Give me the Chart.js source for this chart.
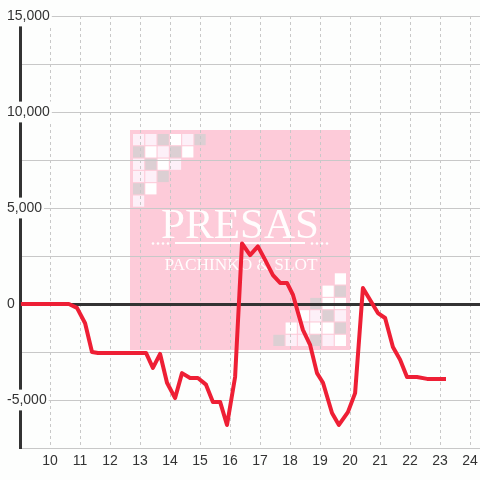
<!DOCTYPE html>
<html>
<head>
<meta charset="utf-8">
<script src="https://cdn.jsdelivr.net/npm/chart.js@4/dist/chart.umd.min.js"></script>
<style>
  html, body { margin: 0; padding: 0; background: #fdfefd; }
  #wrap { width: 480px; height: 480px; }
</style>
</head>
<body>
<div id="wrap"><canvas id="balanceChart" width="480" height="480"></canvas></div>
<script>
// Hour of day (x) and running balance (y)
const hours = [9.03, 10.63, 10.9, 11.17, 11.4, 11.6, 13.2, 13.43, 13.67, 13.9, 14.17, 14.4, 14.67, 14.93,
    15.2, 15.43, 15.67, 15.9, 16.17, 16.4, 16.67, 16.93, 17.17, 17.43, 17.67, 17.9, 18.1, 18.27, 18.43,
    18.67, 18.9, 19.1, 19.4, 19.63, 19.93, 20.17, 20.43, 20.73, 20.93, 21.17, 21.43, 21.67, 21.9, 22.23,
    22.57, 23.2];
const balance = [0, 0, -200, -1000, -2500, -2550, -2550, -3330, -2600, -4100, -4900, -3600, -3850, -3850,
    -4200, -5100, -5100, -6300, -3800, 3150, 2550, 3000, 2300, 1500, 1100, 1100, 470, -470, -1350,
    -2130, -3600, -4100, -5680, -6300, -5630, -4640, 830, 50, -470, -730, -2240, -2900, -3800, -3800,
    -3900, -3900];
const hourTicks = [10, 11, 12, 13, 14, 15, 16, 17, 18, 19, 20, 21, 22, 23, 24];

// Watermark squares (w = white, l = pale pink, g = grey)
const cornerTopLeft = [
    ['l', 'l', 'g', 'w', 'l', 'g'],
    ['g', 'w', 'l', 'g', 'w'],
    ['l', 'g', 'w', 'l'],
    ['l', 'l', 'g'],
    ['g', 'w'],
    ['l']
];
const cornerBottomRight = [
    ['w'],
    ['w', 'g'],
    ['g', 'w', 'w'],
    ['w', 'l', 'g', 'l'],
    ['w', 'l', 'w', 'w', 'g'],
    ['g', 'l', 'l', 'g', 'l', 'w']
];
const squareColors = { w: '#ffffff', l: '#fdf0f8', g: '#dccfd3' };

const watermark = {
    id: 'watermark',
    beforeDraw(chart) {
        const ctx = chart.ctx;
        const size = 220;
        const x0 = chart.width / 2 - size / 2;
        const y0 = chart.height / 2 - size / 2;
        const pitch = 12.3, sq = 11.2;
        ctx.save();
        ctx.fillStyle = '#fdfefd';
        ctx.fillRect(0, 0, chart.width, chart.height);
        ctx.fillStyle = '#fdcbd9';
        ctx.fillRect(x0, y0, size, size);

        cornerTopLeft.forEach((row, r) => {
            row.forEach((c, i) => {
                ctx.fillStyle = squareColors[c];
                ctx.fillRect(x0 + 3 + i * pitch, y0 + 4 + r * pitch, sq, sq);
            });
        });
        const n = cornerBottomRight.length;
        cornerBottomRight.forEach((row, r) => {
            row.forEach((c, i) => {
                const col = 6 - row.length + i;
                ctx.fillStyle = squareColors[c];
                ctx.fillRect(x0 + size - 4 - (6 - col) * pitch + (pitch - sq), y0 + size - 4 - (n - r) * pitch + (pitch - sq), sq, sq);
            });
        });

        const cx = chart.width / 2;
        ctx.fillStyle = 'rgba(255,255,255,0.95)';
        ctx.textAlign = 'center';
        ctx.textBaseline = 'alphabetic';
        ctx.font = '42px "Liberation Serif"';
        let w = ctx.measureText('PRESAS').width;
        ctx.save();
        ctx.translate(cx, y0 + 108);
        ctx.scale(158 / w, 1);
        ctx.fillText('PRESAS', 0, 0);
        ctx.restore();

        ctx.fillRect(cx - 65, y0 + 112, 130, 2);
        for (let k = 0; k < 4; k++) {
            ctx.beginPath();
            ctx.arc(cx - 87 + k * 5, y0 + 113.5, 1.3, 0, Math.PI * 2);
            ctx.fill();
            ctx.beginPath();
            ctx.arc(cx + 72 + k * 5, y0 + 113.5, 1.3, 0, Math.PI * 2);
            ctx.fill();
        }

        ctx.font = '16px "Liberation Serif"';
        w = ctx.measureText('PACHINKO & SLOT').width;
        ctx.save();
        ctx.translate(cx + 1, y0 + 140);
        ctx.scale(153 / w, 1);
        ctx.fillText('PACHINKO & SLOT', 0, 0);
        ctx.restore();
        ctx.restore();
    }
};

Chart.defaults.font.family = '"Liberation Sans", Arial, sans-serif';
Chart.defaults.font.size = 14;
Chart.defaults.color = '#333';

new Chart(document.getElementById('balanceChart'), {
    type: 'line',
    data: {
        datasets: [{
            data: hours.map((h, i) => ({ x: h, y: balance[i] })),
            borderColor: '#ee1f35',
            borderWidth: 4,
            borderJoinStyle: 'round',
            pointRadius: 0,
            tension: 0,
            fill: false
        }]
    },
    options: {
        responsive: false,
        animation: false,
        layout: { padding: { left: 20, right: 0, top: 16, bottom: 0 } },
        plugins: { legend: { display: false }, tooltip: { enabled: false } },
        scales: {
            x: {
                type: 'linear',
                min: 9.0,
                max: 24.333,
                afterBuildTicks: (scale) => { scale.ticks = hourTicks.map(v => ({ value: v })); },
                afterFit: (scale) => {
                    scale.height = 32;
                    scale.paddingLeft = 0;
                    scale.paddingRight = 0;
                },
                grid: { color: '#c8c8c8', lineWidth: 1, drawTicks: false },
                border: { display: false, dash: [3, 3] },
                ticks: { padding: 5, maxRotation: 0, autoSkip: false, color: '#333' }
            },
            y: {
                min: -7500,
                max: 15000,
                afterFit: (scale) => { scale.width = 0; },
                grid: {
                    drawTicks: false,
                    color: (c) => c.tick && c.tick.value === 0 ? '#333' : '#c8c8c8',
                    lineWidth: (c) => c.tick && c.tick.value === 0 ? 3 : 1
                },
                border: { display: true, color: '#333', width: 3 },
                ticks: {
                    stepSize: 2500,
                    mirror: true,
                    padding: -13,
                    color: '#333',
                    callback: (v) => v % 5000 === 0 ? v.toLocaleString('en-US') : '',
                    showLabelBackdrop: (c) => c.tick.value % 5000 === 0,
                    backdropColor: '#fdfefd',
                    backdropPadding: 2
                }
            }
        }
    },
    plugins: [watermark]
});
</script>
</body>
</html>
